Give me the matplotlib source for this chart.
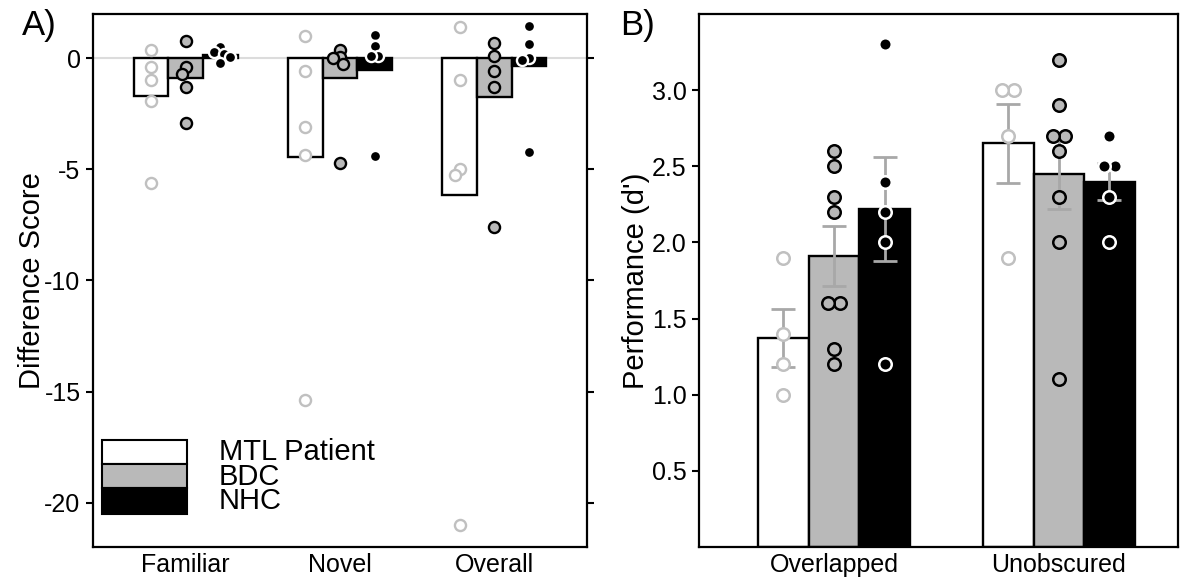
import numpy as np
import matplotlib
matplotlib.use("Agg")
import matplotlib.pyplot as plt
from matplotlib.patches import Rectangle

plt.rcParams['font.family'] = ['Liberation Sans', 'DejaVu Sans']
plt.rcParams['axes.unicode_minus'] = False

# ---------------- data ----------------
groups = ["MTL Patient", "BDC", "NHC"]

catsA = ["Familiar", "Novel", "Overall"]
mtlA_bar = [-1.7, -4.45, -6.17]
bdcA_bar = [-0.9, -0.88, -1.75]
nhcA_bar = [0.15, -0.52, -0.35]
mtlA_pts = [[0.4, -0.4, -0.95, -1.9, -5.6],
            [1.0, -0.55, -3.1, -4.35, -15.4],
            [1.4, -0.95, -5.0, -5.25, -21.0]]
bdcA_pts = [[0.8, -0.4, -0.7, -1.3, -2.9],
            [0.4, 0.05, 0.0, -0.25, -4.7],
            [0.7, 0.1, -0.55, -1.3, -7.6]]
nhcA_pts = [[0.5, 0.3, 0.2, 0.05, -0.2],
            [1.05, 0.55, 0.1, 0.1, -4.4],
            [1.45, 0.65, 0.0, -0.05, -4.2]]

catsB = ["Overlapped", "Unobscured"]
mtlB_bar = [1.375, 2.65]
bdcB_bar = [1.91, 2.45]
nhcB_bar = [2.22, 2.40]
mtlB_err = [0.19, 0.26]
bdcB_err = [0.195, 0.23]
nhcB_err = [0.34, 0.12]
mtlB_pts = [[1.9, 1.4, 1.2, 1.0], [3.0, 3.0, 2.7, 1.9]]
bdcB_pts = [[2.6, 2.5, 2.3, 2.2, 1.6, 1.6, 1.3, 1.2],
            [3.2, 2.9, 2.7, 2.7, 2.6, 2.3, 2.0, 1.1]]
nhcB_pts = [[3.3, 2.4, 2.2, 2.0, 1.2], [2.7, 2.5, 2.5, 2.3, 2.0]]

yticksA = [0, -5, -10, -15, -20]
yticksB = [0.5, 1.0, 1.5, 2.0, 2.5, 3.0]

# ---------------- styles ----------------
GRAY = '#b9b9b9'
LIGHT = '#c0c0c0'
ERR = '#a8a8a8'
bar_fill = ['white', GRAY, 'black']
pt_face = ['white', GRAY, 'black']
pt_edge = [LIGHT, 'black', 'white']
bar_w = 0.225
offs = [-bar_w, 0.0, bar_w]

W, H = 1188, 577
fig = plt.figure(figsize=(W / 100, H / 100), dpi=100)
axA = fig.add_axes([93 / W, 1 - 547 / H, (587 - 93) / W, 533 / H])
axB = fig.add_axes([699 / W, 1 - 547 / H, (1178 - 699) / W, 533 / H])


def swarm_x(ax, xc, vals, dmin):
    """beeswarm offsets in pixel space, returned in data coordinates"""
    t = ax.transData
    p0 = t.transform((xc, 0))
    pxx = t.transform((xc + 1, 0))[0] - p0[0]
    ys = [t.transform((xc, v))[1] for v in vals]
    placed = []
    xs = [0.0] * len(vals)
    for i in sorted(range(len(vals)), key=lambda k: -vals[k]):
        y = ys[i]
        cands = [0.0]
        for (xj, yj) in placed:
            dy = abs(y - yj)
            if dy < dmin:
                dx = np.sqrt(dmin ** 2 - dy ** 2)
                cands += [xj + dx, xj - dx]
        cands.sort(key=lambda c: (abs(c), c))
        for c in cands:
            if all((c - xj) ** 2 + (y - yj) ** 2 >= dmin ** 2 - 1e-6 for xj, yj in placed):
                xs[i] = c
                placed.append((c, y))
                break
    # centre rows of tied values
    done = set()
    for i in range(len(vals)):
        if i in done:
            continue
        row = [j for j in range(len(vals)) if abs(ys[j] - ys[i]) < 0.5]
        done.update(row)
        if len(row) > 1:
            m = np.mean([xs[j] for j in row])
            for j in row:
                xs[j] -= m
    return [xc + x / pxx for x in xs]


def draw_panel(ax, cats, bars, pts, errs, ms, mew, frac, xlim, ylim):
    ax.set_xlim(*xlim)
    ax.set_ylim(*ylim)
    x = np.arange(len(cats))
    for g in range(3):
        ax.bar(x + offs[g], bars[g], width=bar_w, color=bar_fill[g],
               edgecolor='black', linewidth=1.7, zorder=2)
    if errs is not None:
        for g in range(3):
            ax.errorbar(x + offs[g], bars[g], yerr=errs[g], fmt='none',
                        ecolor=ERR, elinewidth=2, capsize=8.5, capthick=2, zorder=3)
    dpx = (ms + mew) * 100 / 72 * frac
    for g in range(3):
        for c in range(len(cats)):
            xs = swarm_x(ax, x[c] + offs[g], pts[g][c], dpx)
            ax.plot(xs, pts[g][c], linestyle='none', marker='o', ms=ms,
                    mfc=pt_face[g], mec=pt_edge[g], mew=mew, zorder=4)
    ax.set_xticks(x)
    ax.set_xticklabels(cats)
    for s in ax.spines.values():
        s.set_linewidth(1.6)
        s.set_color('black')


# ---- panel A ----
draw_panel(axA, catsA, [mtlA_bar, bdcA_bar, nhcA_bar],
           [mtlA_pts, bdcA_pts, nhcA_pts], None, 8.0, 1.7, 0.55,
           (-0.6, 2.6), (-22, 2))
axA.axhline(0, color='#dcdcdc', lw=1.5, zorder=1)
axA.set_yticks(yticksA)
axA.set_yticklabels([str(v) for v in yticksA])
axA.tick_params(axis='y', which='both', left=True, right=True, direction='out',
                length=5, width=1.5, labelsize=18, pad=4)
axA.tick_params(axis='x', length=0, labelsize=18, pad=4)
axA.set_ylabel("Difference Score", fontsize=21, labelpad=-1)

# legend (manual stacked boxes)
box_y = [0.1557, 0.1107, 0.0619]
box_h = [0.0451, 0.0450, 0.0488]
txt_y = [0.178, 0.131, 0.087]
for g in range(3):
    axA.add_patch(Rectangle((0.018, box_y[g]), 0.172, box_h[g], transform=axA.transAxes,
                            facecolor=bar_fill[g], edgecolor='black', lw=1.5,
                            zorder=5, clip_on=False))
    axA.text(0.255, txt_y[g], groups[g], transform=axA.transAxes, fontsize=21,
             va='center', ha='left', zorder=6)

# ---- panel B ----
draw_panel(axB, catsB, [mtlB_bar, bdcB_bar, nhcB_bar],
           [mtlB_pts, bdcB_pts, nhcB_pts], [mtlB_err, bdcB_err, nhcB_err],
           9.0, 1.8, 0.78, (-0.6, 1.53), (0, 3.5))
axB.set_yticks(yticksB)
axB.set_yticklabels([f"{v:.1f}" for v in yticksB])
axB.tick_params(axis='y', left=True, right=False, direction='out',
                length=5, width=1.5, labelsize=18, pad=4)
axB.tick_params(axis='x', length=0, labelsize=18, pad=4)
axB.set_ylabel("Performance (d')", fontsize=21, labelpad=1)

fig.text(22 / W, 1 - 26 / H, "A)", fontsize=25, va='center', ha='left')
fig.text(620 / W, 1 - 26 / H, "B)", fontsize=25, va='center', ha='left')

fig.savefig("out.png", dpi=100)
